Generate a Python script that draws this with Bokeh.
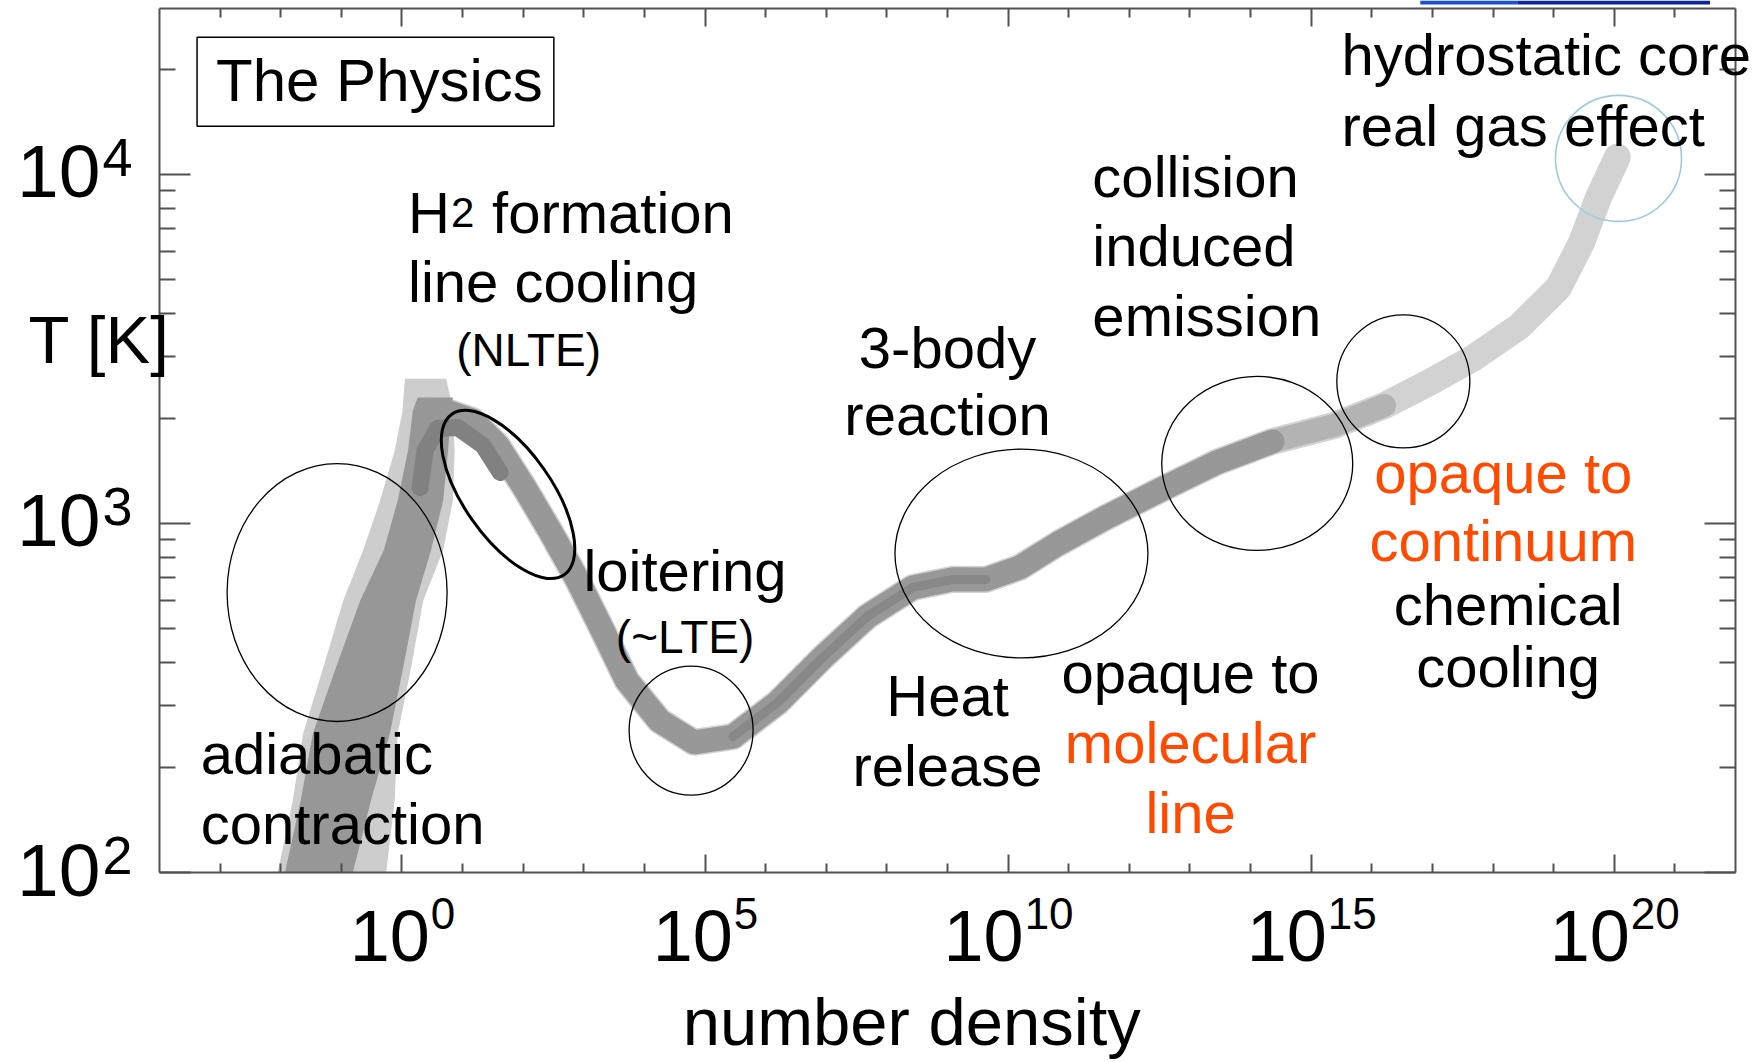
from bokeh.plotting import figure
from bokeh.models import FixedTicker, LogAxis, Range1d, Label, CustomJSTickFormatter
from bokeh.embed import file_html
from bokeh.resources import INLINE

# ---- collapse track in the (number density, temperature) plane ----
# broad adiabatic branch: temperature rows with the n-extent of the outer / inner band
adiabatic_T = [100, 161, 250, 386, 601, 838, 1164, 1618, 2109, 2249, 2600]
adiabatic_outer_lo = [-2.05, -1.80, -1.63, -1.30, -0.97, -0.64, -0.36, -0.12, 0.01, 0.02, 0.05]
adiabatic_outer_hi = [-0.26, -0.12, -0.07, 0.15, 0.35, 0.68, 0.84, 0.87, 0.84, 0.81, 0.73]
adiabatic_inner_T = [100, 161, 250, 386, 601, 838, 1164, 1618, 2109, 2296]
adiabatic_inner_lo = [-1.93, -1.67, -1.47, -1.09, -0.69, -0.30, -0.07, 0.10, 0.18, 0.26]
adiabatic_inner_hi = [-0.81, -0.51, -0.20, 0.02, 0.23, 0.48, 0.68, 0.76, 0.81, 0.84]

# main track from the H2 peak up to the hydrostatic core (log10 n, T [K])
track_log_n = [0.68, 1.17, 1.58, 2.03, 2.46, 2.90, 3.31, 3.71, 4.25, 4.82, 5.46,
               6.20, 6.94, 7.68, 8.43, 9.09, 9.63, 10.19, 10.83, 11.58, 12.50,
               13.44, 14.36, 15.38, 16.21, 16.95, 17.69, 18.43, 19.08, 19.46,
               19.74, 20.05]
track_T = [2109, 1972, 1671, 1259, 941, 687, 494, 355, 272, 236, 245,
           307, 413, 542, 656, 692, 691, 748, 877, 1033, 1245,
           1496, 1718, 1911, 2179, 2535, 2991, 3666, 4742, 6381,
           8590, 11200]

# dense ridge at the H2-cooling peak
ridge_log_n = [0.30, 0.38, 0.59, 0.92, 1.34, 1.62]
ridge_T = [1268, 1618, 1871, 1884, 1671, 1400]

# dense ridge along the loitering / 3-body part
core_log_n = [5.46, 6.20, 6.94, 7.68, 8.43, 9.09, 9.63]
core_T = [245, 307, 413, 542, 656, 692, 691]

x_tick_exp = [0, 5, 10, 15, 20]
y_tick_exp = [2, 3, 4]

# regime markers: (log n, T, width px, height px, angle deg, colour, line width)
regimes = [
    (-1.07, 634, 220, 258, 0, "black", 1.3),
    (1.75, 1211, 196, 88, -55, "black", 3.0),
    (4.77, 255, 124, 129, 0, "black", 1.3),
    (10.22, 820, 253, 209, 0, "black", 1.3),
    (14.11, 1486, 191, 174, 0, "black", 1.3),
    (16.52, 2553, 133, 133, 0, "black", 1.3),
    (20.07, 11120, 126, 126, 0, "#9ccbe0", 1.6),
]

BLACK = "black"
ORANGE = "#ff4a00"
# notes: (text, log n, log T, align, colour, size px)
notes = [
    ("hydrostatic core", 15.50, 4.281, "left", BLACK, 58),
    ("real gas effect", 15.50, 4.077, "left", BLACK, 58),
    ("collision", 11.39, 3.931, "left", BLACK, 58),
    ("induced", 11.39, 3.734, "left", BLACK, 58),
    ("emission", 11.39, 3.533, "left", BLACK, 58),
    ("line cooling", 0.10, 3.630, "left", BLACK, 58),
    ("(NLTE)", 2.09, 3.447, "center", BLACK, 46),
    ("3-body", 9.00, 3.441, "center", BLACK, 58),
    ("reaction", 9.00, 3.249, "center", BLACK, 58),
    ("loitering", 4.67, 2.802, "center", BLACK, 58),
    ("(~LTE)", 4.67, 2.625, "center", BLACK, 46),
    ("adiabatic", -3.32, 2.278, "left", BLACK, 58),
    ("contraction", -3.32, 2.077, "left", BLACK, 58),
    ("Heat", 9.00, 2.444, "center", BLACK, 58),
    ("release", 9.00, 2.244, "center", BLACK, 58),
    ("opaque to", 13.01, 2.510, "center", BLACK, 58),
    ("molecular", 13.01, 2.309, "center", ORANGE, 58),
    ("line", 13.01, 2.109, "center", ORANGE, 58),
    ("opaque to", 18.17, 3.083, "center", ORANGE, 58),
    ("continuum", 18.17, 2.888, "center", ORANGE, 58),
    ("chemical", 18.25, 2.705, "center", BLACK, 58),
    ("cooling", 18.25, 2.527, "center", BLACK, 58),
]

FONT = "Liberation Sans"
W, H = 1762, 1062
# axes box: data limits and where the box sits on the canvas (px from top-left)
LX0, LX1 = -4.0, 22.0
LY0, LY1 = 2.0, 4.4756
BOX_L, BOX_R, BOX_T, BOX_B = 159, 1735, 8, 872
X0, X1, Y0, Y1 = 10 ** LX0, 10 ** LX1, 10 ** LY0, 10 ** LY1

# the drawing frame spans the whole canvas; axes are pinned to the box edges
sx = (LX1 - LX0) / (BOX_R - BOX_L)
sy = (LY1 - LY0) / (BOX_B - BOX_T)
x_range = Range1d(10 ** (LX0 - BOX_L * sx), 10 ** (LX1 + (W - BOX_R) * sx))
y_range = Range1d(10 ** (LY0 - (H - BOX_B) * sy), 10 ** (LY1 + BOX_T * sy))

p = figure(width=W, height=H, x_axis_type="log", y_axis_type="log",
           x_range=x_range, y_range=y_range,
           output_backend="svg", toolbar_location=None,
           min_border=0, min_border_left=0, min_border_right=0,
           min_border_top=0, min_border_bottom=0)
p.grid.visible = False
p.outline_line_color = None
p.background_fill_color = "white"
p.border_fill_color = "white"

blank = CustomJSTickFormatter(code="return ''")
x_ticker = FixedTicker(ticks=[10.0 ** e for e in x_tick_exp],
                       minor_ticks=[10.0 ** e for e in range(-3, 22) if e % 5])
y_minor = [m * 10.0 ** d for d in (2, 3) for m in range(2, 10)] + [2.0e4]
y_ticker = FixedTicker(ticks=[10.0 ** e for e in y_tick_exp], minor_ticks=y_minor)

AXIS_GRAY = "#505050"


def style_axis(ax, major, minor, loc, bounds):
    ax.fixed_location = loc
    ax.bounds = bounds
    ax.formatter = blank
    ax.major_label_standoff = 0
    ax.major_tick_in = major
    ax.major_tick_out = 0
    ax.minor_tick_in = minor
    ax.minor_tick_out = 0
    ax.axis_line_color = AXIS_GRAY
    ax.axis_line_width = 2
    ax.major_tick_line_color = AXIS_GRAY
    ax.major_tick_line_width = 2
    ax.minor_tick_line_color = AXIS_GRAY
    ax.minor_tick_line_width = 2


p.xaxis.ticker = x_ticker
p.yaxis.ticker = y_ticker
style_axis(p.xaxis[0], 18, 9, Y0, (X0, X1))
style_axis(p.yaxis[0], 31, 16, X0, (Y0, Y1))
top_axis = LogAxis(ticker=x_ticker)
style_axis(top_axis, 18, 9, Y1, (X0, X1))
p.add_layout(top_axis, "above")
right_axis = LogAxis(ticker=y_ticker)
style_axis(right_axis, 31, 16, X1, (Y0, Y1))
p.add_layout(right_axis, "right")

# ---- the track ----
tr_n = [10 ** v for v in track_log_n]
p.harea(y=adiabatic_T, x1=[10 ** v for v in adiabatic_outer_lo],
        x2=[10 ** v for v in adiabatic_outer_hi], fill_color="#cdcdcd")
p.line(tr_n, track_T, line_width=27, line_color="#d2d2d2", line_cap="round", line_join="round")
p.harea(y=adiabatic_inner_T, x1=[10 ** v for v in adiabatic_inner_lo],
        x2=[10 ** v for v in adiabatic_inner_hi], fill_color="#979797")

mid = [i for i, v in enumerate(track_log_n) if 13.0 <= v <= 16.3]
p.line([tr_n[i] for i in mid], [track_T[i] for i in mid], line_width=23,
       line_color="#b3b3b3", line_cap="round", line_join="round")
dark = [i for i, v in enumerate(track_log_n) if v <= 14.4]
p.line([tr_n[i] for i in dark], [track_T[i] for i in dark], line_width=24,
       line_color="#989898", line_cap="round", line_join="round")
p.line([10 ** v for v in ridge_log_n], ridge_T, line_width=17, line_color="#818181",
       line_cap="round", line_join="round")
p.line([10 ** v for v in core_log_n], core_T, line_width=9, line_color="#888888",
       line_cap="round", line_join="round")

# ---- regime markers ----
for ln, t, w, h, ang, col, lw in regimes:
    p.ellipse(x=[10 ** ln], y=[t], width=[w], height=[h], width_units="screen",
              height_units="screen", angle=[ang * 3.14159265 / 180.0],
              fill_color=None, line_color=col, line_width=lw)

# ---- title box and header strip ----
p.quad(left=[10 ** -3.38], right=[10 ** 2.506], bottom=[10 ** 4.138], top=[10 ** 4.393],
       fill_color=None, line_color="black", line_width=1.5)
strip_bottom = 10 ** (LY1 + (BOX_T - 4) * sy)
p.quad(left=[10 ** 16.80, 10 ** 18.40], right=[10 ** 18.40, 10 ** 21.58],
       bottom=[strip_bottom] * 2, top=[y_range.end] * 2,
       fill_color=["#1a4fd6", "#0b2896"], line_color=None)

# text helper: baseline position corrected for the label text box
BASE = 0.38


def note(txt, x, y, size, align="left", color=BLACK, dx=0.0, dy=0.0):
    p.add_layout(Label(x=x, y=y, x_offset=dx, y_offset=dy + BASE * size, text=txt,
                       text_font=FONT, text_font_size=f"{size}px", text_align=align,
                       text_baseline="alphabetic", text_color=color))


note("The Physics", 10 ** -3.067, 10 ** 4.203, 60)

for txt, ln, lt, al, col, sz in notes:
    note(txt, 10 ** ln, 10 ** lt, sz, al, col)

# "H2 formation" with a small 2
h_n, h_T = 10 ** 0.10, 10 ** 3.828
note("H", h_n, h_T, 58)
note("2", h_n, h_T, 42, dx=43, dy=0.38 * 16)
note("formation", h_n, h_T, 58, dx=84)

# ---- tick labels ----
for e in y_tick_exp:
    note("10", X0, 10.0 ** e, 75, "right", dx=-59, dy=-26)
    note(str(e), X0, 10.0 ** e, 54, "left", dx=-57, dy=-4)

for e in x_tick_exp:
    ew = len(str(e)) * 0.556 * 44
    right = 80 - (80 + ew) / 2
    note("10", 10.0 ** e, Y0, 72, "right", dx=right, dy=-91)
    note(str(e), 10.0 ** e, Y0, 44, "left", dx=right + 1, dy=-58)

# ---- axis titles ----
note("number density", 10 ** 8.41, Y0, 67, "center", dy=-174)
note("T [K]", X0, 10 ** 3.453, 67, "left", dx=-131)

open("out.html", "w").write(file_html(p, INLINE))
